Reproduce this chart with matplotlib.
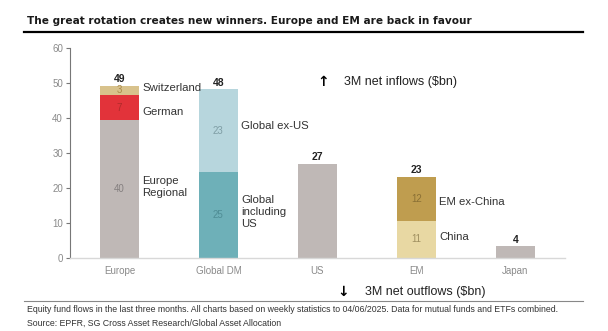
import matplotlib
matplotlib.use("Agg")
import matplotlib.pyplot as plt
from matplotlib.lines import Line2D

plt.rcParams["font.family"] = ["Liberation Sans", "DejaVu Sans"]

# data (heights, labels as printed)
categories = ["Europe", "Global DM", "US", "EM", "Japan"]
europe_vals = [39.4, 7.1, 2.7]
europe_lbls = ["40", "7", "3"]
europe_names = ["Europe\nRegional", "German", "Switzerland"]
gdm_vals = [24.5, 23.7]
gdm_lbls = ["25", "23"]
gdm_names = ["Global\nincluding\nUS", "Global ex-US"]
us_vals = [26.9]
em_vals = [10.6, 12.6]
em_lbls = ["11", "12"]
em_names = ["China", "EM ex-China"]
japan_vals = [3.3]
totals = ["49", "48", "27", "23", "4"]

GREY = "#bfb8b6"
colors = {
    0: [GREY, "#e2333a", "#d8c28c"],
    1: ["#6eb0b8", "#b7d6dd"],
    2: [GREY],
    3: ["#e8d8a3", "#bf9d4f"],
    4: [GREY],
}
num_colors = {
    0: ["#858080", "#b02a2a", "#a88a4a"],
    1: ["#4f8d95", "#7f9ea5"],
    3: ["#a09060", "#8a7035"],
}
stacks = [europe_vals, gdm_vals, us_vals, em_vals, japan_vals]
seg_lbls = [europe_lbls, gdm_lbls, None, em_lbls, None]
seg_names = [europe_names, gdm_names, None, em_names, None]

fig = plt.figure(figsize=(6.08, 3.31), dpi=100)
ax = fig.add_axes([0.115, 0.221, 0.814, 0.634])

W = 0.4
for i, vals in enumerate(stacks):
    bottom = 0
    for j, v in enumerate(vals):
        ax.bar(i, v, W, bottom=bottom, color=colors[i][j], linewidth=0)
        if seg_lbls[i] is not None:
            ax.text(i, bottom + v / 2, seg_lbls[i][j], ha="center", va="center",
                    fontsize=7, color=num_colors[i][j])
        bottom += v
    ax.text(i, bottom + 0.5, totals[i], ha="center", va="bottom",
            fontsize=7.5, fontweight="bold", color="#222222")

# side labels next to the stacked bars
side = [
    (0, 2, 48.7), (0, 1, 41.7), (0, 0, 20.3),
    (1, 1, 37.7), (1, 0, 13.1),
    (3, 1, 16.0), (3, 0, 6.0),
]
for i, j, y in side:
    ax.text(i + W / 2 + 0.03, y, seg_names[i][j], ha="left", va="center",
            fontsize=8.2, color="#333333", linespacing=1.2)

ax.set_xlim(-0.5, 4.5)
ax.set_ylim(0, 60)
ax.set_yticks(range(0, 61, 10))
ax.set_xticks(range(len(categories)))
ax.set_xticklabels(categories)
ax.tick_params(axis="x", length=0, labelsize=7, labelcolor="#8a8a8a", pad=6)
ax.tick_params(axis="y", length=3, width=0.8, color="#777777",
               labelsize=7, labelcolor="#8a8a8a", pad=2)
for s in ["top", "right"]:
    ax.spines[s].set_visible(False)
ax.spines["left"].set_color("#777777")
ax.spines["left"].set_linewidth(0.8)
ax.spines["bottom"].set_color("#d8d8d8")
ax.spines["bottom"].set_linewidth(1.0)

# title and rules
fig.text(0.044, 0.937, "The great rotation creates new winners. Europe and EM are back in favour",
         fontsize=7.6, fontweight="bold", color="#1a1a1a", va="center",
         family=["Liberation Sans Narrow", "DejaVu Sans"])
fig.add_artist(Line2D([0.039, 0.959], [0.903, 0.903], color="black", lw=1.6))
fig.add_artist(Line2D([0.039, 0.959], [0.091, 0.091], color="#888888", lw=0.8))

fig.text(0.531, 0.752, "\u2191", fontsize=10, fontweight="bold", ha="center", va="center",
         family="DejaVu Sans")
fig.text(0.566, 0.752, "3M net inflows ($bn)", fontsize=9, color="#222222", va="center")
fig.text(0.564, 0.118, "\u2193", fontsize=10, fontweight="bold", ha="center", va="center",
         family="DejaVu Sans")
fig.text(0.600, 0.118, "3M net outflows ($bn)", fontsize=9, color="#222222", va="center")

fig.text(0.044, 0.066, "Equity fund flows in the last three months. All charts based on weekly "
         "statistics to 04/06/2025. Data for mutual funds and ETFs combined.",
         fontsize=6.3, color="#333333", va="center")
fig.text(0.044, 0.024, "Source: EPFR, SG Cross Asset Research/Global Asset Allocation",
         fontsize=6.3, color="#333333", va="center")

fig.savefig("out.png", dpi=100)
